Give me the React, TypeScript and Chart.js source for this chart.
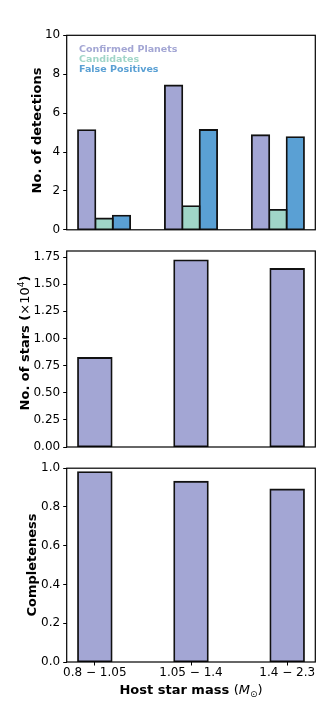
import React, { useEffect, useRef } from 'react';
import { Chart, registerables } from 'chart.js';

Chart.register(...registerables);

// ---------- data ----------
const massBins = ['0.8 − 1.05', '1.05 − 1.4', '1.4 − 2.3'];
const binIndex = [0, 1, 2];
const confirmedPlanets = [5.12, 7.42, 4.86];
const candidates = [0.58, 1.22, 1.02];
const falsePositives = [0.73, 5.13, 4.76];
const starCounts = [0.82, 1.72, 1.64]; // in units of 1e4
const completeness = [0.98, 0.93, 0.89];
const detectionTicks = [0, 2, 4, 6, 8, 10];
const starTicks = [0, 0.25, 0.5, 0.75, 1, 1.25, 1.5, 1.75];
const completenessTicks = [0, 0.2, 0.4, 0.6, 0.8, 1.0];

const seriesLabels = ['Confirmed Planets', 'Candidates', 'False Positives'];
const seriesColors = ['#a3a6d4', '#a0d5c8', '#5aa0d4'];

// ---------- style ----------
const FAMILY = '"DejaVu Sans", sans-serif';
const tickFont = { family: FAMILY, size: 12 };
const GROUP_WIDTH = 0.6; // panel 1 grouped bar width (data units)
const BAR_WIDTH = 0.35; // panels 2 and 3

function xLimits(width: number) {
  const lo = binIndex[0] - width / 2;
  const hi = binIndex[binIndex.length - 1] + width / 2;
  const m = (hi - lo) * 0.05;
  return { min: lo - m, max: hi + m };
}

const framePlugin = {
  id: 'frame',
  afterDatasetsDraw(chart: any) {
    const { ctx, chartArea: a } = chart;
    ctx.save();
    ctx.strokeStyle = '#000';
    ctx.lineWidth = 1.2;
    ctx.strokeRect(a.left, a.top, a.right - a.left, a.bottom - a.top);
    ctx.restore();
  },
};

type Seg = { text: string; font: string; dy?: number };

function drawRich(ctx: CanvasRenderingContext2D, segs: Seg[], cx: number, cy: number, rot: number) {
  ctx.save();
  ctx.translate(cx, cy);
  ctx.rotate(rot);
  ctx.textAlign = 'left';
  ctx.textBaseline = 'alphabetic';
  ctx.fillStyle = '#000';
  let total = 0;
  const widths = segs.map((s) => {
    ctx.font = s.font;
    const w = ctx.measureText(s.text).width;
    total += w;
    return w;
  });
  let x = -total / 2;
  segs.forEach((s, i) => {
    ctx.font = s.font;
    ctx.fillText(s.text, x, 4.7 + (s.dy || 0));
    x += widths[i];
  });
  ctx.restore();
}

const B13 = `bold 13px ${FAMILY}`;
const N13 = `13px ${FAMILY}`;
const I13 = `oblique 13px ${FAMILY}`;
const N9 = `9px ${FAMILY}`;

function titlePlugin(segs: Seg[], cx: number, cy: number, rot: number) {
  return {
    id: 'richTitle',
    afterDraw(chart: any) {
      drawRich(chart.ctx, segs, cx, cy, rot);
    },
  };
}

const legendPlugin = {
  id: 'textLegend',
  afterDraw(chart: any) {
    const { ctx, chartArea: a } = chart;
    ctx.save();
    ctx.font = `bold 9.5px ${FAMILY}`;
    ctx.textAlign = 'left';
    ctx.textBaseline = 'middle';
    chart.data.datasets.forEach((ds: any, i: number) => {
      ctx.fillStyle = ds.backgroundColor;
      ctx.fillText(ds.label, a.left + 12.3, a.top + 14.7 + i * 9.65);
    });
    ctx.restore();
  },
};

function yScale(min: number, max: number, values: number[], decimals: number) {
  return {
    type: 'linear',
    min,
    max,
    afterBuildTicks: (s: any) => {
      s.ticks = values.map((v) => ({ value: v }));
    },
    afterFit: (s: any) => {
      s.width = 66.7;
    },
    ticks: {
      font: tickFont,
      color: '#000',
      padding: 3,
      callback: (v: any) => Number(v).toFixed(decimals),
    },
    grid: { drawOnChartArea: false, drawTicks: true, tickLength: 3.5, color: '#000', tickWidth: 1 },
    border: { display: false },
  };
}

function xScale(width: number, height: number, showLabels: boolean) {
  const lim = xLimits(width);
  return {
    type: 'linear',
    offset: false,
    min: lim.min,
    max: lim.max,
    afterBuildTicks: (s: any) => {
      s.ticks = binIndex.map((v) => ({ value: v }));
    },
    afterFit: (s: any) => {
      s.height = height;
    },
    ticks: {
      display: showLabels,
      font: tickFont,
      color: '#000',
      padding: 0,
      maxRotation: 0,
      autoSkip: false,
      callback: (_v: any, i: number) => massBins[i],
    },
    grid: showLabels
      ? { drawOnChartArea: false, drawTicks: true, tickLength: 3.5, color: '#000', tickWidth: 1, offset: false }
      : { display: false, offset: false },
    border: { display: false },
  };
}

const barStyle = {
  borderColor: '#111',
  borderWidth: 1.8,
  inflateAmount: 0.9,
  borderSkipped: false,
  barPercentage: 1,
};

function baseOptions(padTop: number) {
  return {
    responsive: false,
    animation: false,
    devicePixelRatio: 1,
    layout: { padding: { left: 0, right: 16.7, top: padTop, bottom: 0 } },
    plugins: { legend: { display: false }, tooltip: { enabled: false } },
  };
}

function useChart(ref: React.RefObject<HTMLCanvasElement | null>, makeConfig: () => any) {
  useEffect(() => {
    if (!ref.current) return;
    const chart = new Chart(ref.current, makeConfig());
    return () => chart.destroy();
  }, []);
}

export default function App() {
  const c1 = useRef<HTMLCanvasElement>(null);
  const c2 = useRef<HTMLCanvasElement>(null);
  const c3 = useRef<HTMLCanvasElement>(null);

  useChart(c1, () => ({
    type: 'bar',
    data: {
      datasets: [confirmedPlanets, candidates, falsePositives].map((vals, k) => ({
        label: seriesLabels[k],
        data: binIndex.map((x, i) => ({ x, y: vals[i] })),
        backgroundColor: seriesColors[k],
        categoryPercentage: GROUP_WIDTH,
        ...barStyle,
      })),
    },
    options: {
      ...baseOptions(35.3),
      scales: {
        x: xScale(GROUP_WIDTH, 8.7, false),
        y: yScale(0, 10, detectionTicks, 0),
      },
    },
    plugins: [
      framePlugin,
      legendPlugin,
      titlePlugin([{ text: 'No. of detections', font: B13 }], 36, 130.5, -Math.PI / 2),
    ],
  }));

  const starMax = Math.max(...starCounts) * 1.05;
  useChart(c2, () => ({
    type: 'bar',
    data: {
      datasets: [
        {
          label: 'No. of stars',
          data: binIndex.map((x, i) => ({ x, y: starCounts[i] })),
          backgroundColor: seriesColors[0],
          categoryPercentage: BAR_WIDTH,
          ...barStyle,
        },
      ],
    },
    options: {
      ...baseOptions(11),
      scales: {
        x: xScale(BAR_WIDTH, 11, false),
        y: yScale(0, starMax, starTicks, 2),
      },
    },
    plugins: [
      framePlugin,
      titlePlugin(
        [
          { text: 'No. of stars (', font: B13 },
          { text: '×10', font: N13 },
          { text: '4', font: N9, dy: -5 },
          { text: ')', font: B13 },
        ],
        24,
        103,
        -Math.PI / 2
      ),
    ],
  }));

  useChart(c3, () => ({
    type: 'bar',
    data: {
      datasets: [
        {
          label: 'Completeness',
          data: binIndex.map((x, i) => ({ x, y: completeness[i] })),
          backgroundColor: seriesColors[0],
          categoryPercentage: BAR_WIDTH,
          ...barStyle,
        },
      ],
    },
    options: {
      ...baseOptions(8),
      scales: {
        x: xScale(BAR_WIDTH, 58, true),
        y: yScale(0, 1, completenessTicks, 1),
      },
    },
    plugins: [
      framePlugin,
      titlePlugin([{ text: 'Completeness', font: B13 }], 31.7, 107, -Math.PI / 2),
      titlePlugin(
        [
          { text: 'Host star mass ', font: B13 },
          { text: '(', font: N13 },
          { text: 'M', font: I13 },
          { text: '⊙', font: N9, dy: 2.5 },
          { text: ')', font: N13 },
        ],
        191,
        231.3,
        0
      ),
    ],
  }));

  const abs = (top: number, h: number): React.CSSProperties => ({
    position: 'absolute',
    left: 0,
    top,
    width: 332,
    height: h,
  });

  return (
    <div style={{ position: 'absolute', left: 0, top: 0, width: 332, height: 720, background: '#fff' }}>
      <canvas ref={c1} width={332} height={240} style={abs(0, 240)} />
      <canvas ref={c2} width={332} height={218} style={abs(240, 218)} />
      <canvas ref={c3} width={332} height={262} style={abs(458, 262)} />
    </div>
  );
}
